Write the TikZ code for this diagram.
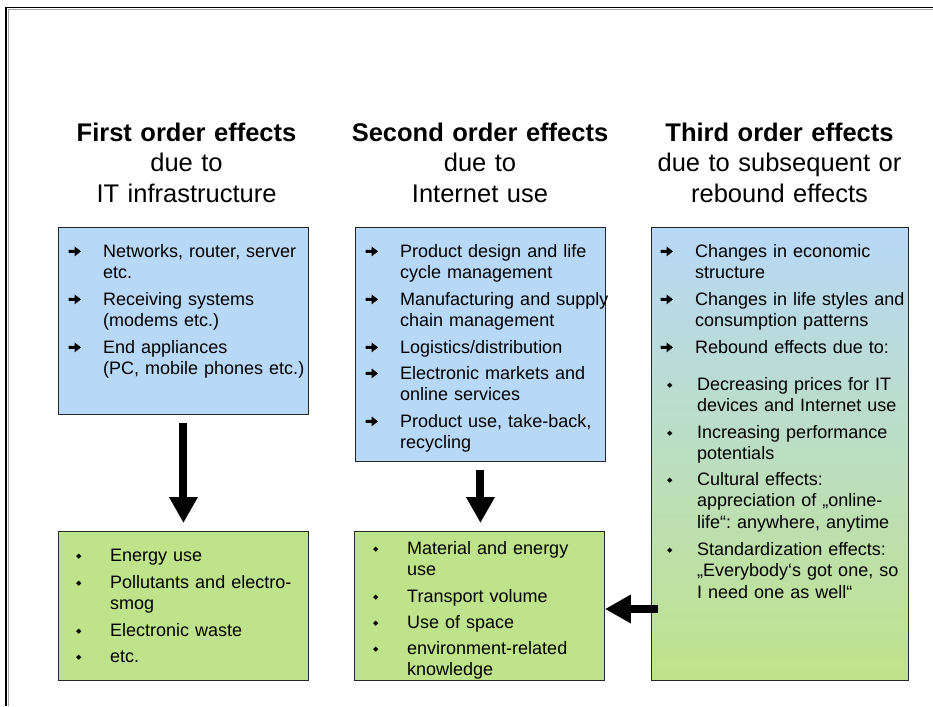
\documentclass[tikz,border=0pt]{standalone}
\usepackage{fontspec}
\setmainfont{Liberation Sans}
\newfontfamily\symfont{DejaVu Sans}
\usetikzlibrary{arrows.meta}
\definecolor{boxblue}{RGB}{184,216,248}
\definecolor{boxgreen}{RGB}{191,227,138}
\newcommand\bulmark[1]{\llap{\makebox[#1][l]{\raisebox{2.5pt}{\symfont\fontsize{7}{7}\selectfont ◆}}}}
\newcommand\markarrow[1]{\pic at ([shift={(-35,-5.6)}]#1.base west) {itemarrow};}
\tikzset{
  boxshape/.style={draw=black!85, line width=0.9pt, anchor=north west, inner sep=0pt},
  bluebox/.style={boxshape, fill=boxblue},
  greenbox/.style={boxshape, fill=boxgreen},
  headtxt/.style={anchor=base, inner sep=0pt, text width=330pt, align=center, font=\fontsize{25.5}{30.5}\selectfont},
  entrytxt/.style={anchor=base west, inner sep=0pt, text width=250pt, align=left, font=\fontsize{18}{21.7}\selectfont\frenchspacing},
  bigarrow/.style={line width=8pt, -{Triangle[length=26pt,width=27pt]}},
  itemarrow/.pic={\fill (0.5,-1.5) -- (6.5,-1.5) -- (6.5,-5) -- (13,0) -- (6.5,5) -- (6.5,1.5) -- (0.5,1.5) -- cycle;}
}
\begin{document}
\begin{tikzpicture}[x=1pt,y=-1pt]
\useasboundingbox[fill=white] (0,0) rectangle (933,706);
% frame
\draw[black, line width=1.8pt] (6,706) -- (6,7.6) -- (933,7.6);
\draw[gray!70, line width=0.8pt] (7.9,706) -- (7.9,9.5) -- (933,9.5);

% headings
\node[headtxt] (h1) at (186.5,141) {\textbf{First order effects}\\due to\\IT infrastructure};
\node[headtxt] (h2) at (480,141) {\textbf{Second order effects}\\due to\\Internet use};
\node[headtxt] (h3) at (779.5,141) {\textbf{Third order effects}\\due to subsequent or\\rebound effects};

% boxes
\node[bluebox, minimum width=250pt, minimum height=187pt] (b1) at (58,227) {};
\node[bluebox, minimum width=250pt, minimum height=234pt] (b2) at (355,227) {};
\node[boxshape, top color=boxblue, bottom color=boxgreen, minimum width=257pt, minimum height=453pt] (b3) at (651,227) {};
\node[greenbox, minimum width=250pt, minimum height=149pt] (g1) at (58,531) {};
\node[greenbox, minimum width=250pt, minimum height=149pt] (g2) at (354,531) {};

% box 1
\node[entrytxt] (b1i1) at (103,257) {Networks, router, server\\etc.};
\node[entrytxt] (b1i2) at (103,305) {Receiving systems\\(modems etc.)};
\node[entrytxt] (b1i3) at (103,353) {End appliances\\(PC, mobile phones etc.)};
\markarrow{b1i1}\markarrow{b1i2}\markarrow{b1i3}

% box 2
\node[entrytxt] (b2i1) at (400,257) {Product design and life\\cycle management};
\node[entrytxt] (b2i2) at (400,305) {Manufacturing and supply\\chain management};
\node[entrytxt] (b2i3) at (400,353) {Logistics/distribution};
\node[entrytxt] (b2i4) at (400,379) {Electronic markets and\\online services};
\node[entrytxt] (b2i5) at (400,427) {Product use, take-back,\\recycling};
\markarrow{b2i1}\markarrow{b2i2}\markarrow{b2i3}\markarrow{b2i4}\markarrow{b2i5}

% box 3
\node[entrytxt] (b3i1) at (695,257) {Changes in economic\\structure};
\node[entrytxt] (b3i2) at (695,305) {Changes in life styles and\\consumption patterns};
\node[entrytxt] (b3i3) at (695,353) {Rebound effects due to:};
\markarrow{b3i1}\markarrow{b3i2}\markarrow{b3i3}
\node[entrytxt] (b3s1) at (697,390) {\bulmark{30pt}Decreasing prices for IT\\devices and Internet use};
\node[entrytxt] (b3s2) at (697,438) {\bulmark{30pt}Increasing performance\\potentials};
\node[entrytxt] (b3s3) at (697,485) {\bulmark{30pt}Cultural effects:\\appreciation of „online-\\life“: anywhere, anytime};
\node[entrytxt] (b3s4) at (697,555) {\bulmark{30pt}Standardization effects:\\„Everybody‘s got one, so\\I need one as well“};

% green 1
\node[entrytxt] (g1i1) at (110,561) {\bulmark{34pt}Energy use};
\node[entrytxt] (g1i2) at (110,588) {\bulmark{34pt}Pollutants and electro-\\smog};
\node[entrytxt] (g1i3) at (110,636) {\bulmark{34pt}Electronic waste};
\node[entrytxt] (g1i4) at (110,662) {\bulmark{34pt}etc.};

% green 2
\node[entrytxt] (g2i1) at (407,554) {\bulmark{34pt}Material and energy\\use};
\node[entrytxt] (g2i2) at (407,602) {\bulmark{34pt}Transport volume};
\node[entrytxt] (g2i3) at (407,628) {\bulmark{34pt}Use of space};
\node[entrytxt] (g2i4) at (407,654) {\bulmark{34pt}environment-related\\knowledge};

% arrows
\draw[bigarrow, shorten <=8pt, shorten >=8pt] (b1.south) -- (g1.north);
\draw[bigarrow, shorten <=8pt, shorten >=8pt] (b2.south) -- (g2.north -| b2.south);
\coordinate (a3s) at (658,609);
\draw[bigarrow] (a3s) -- (g2.east |- a3s);
\end{tikzpicture}
\end{document}
